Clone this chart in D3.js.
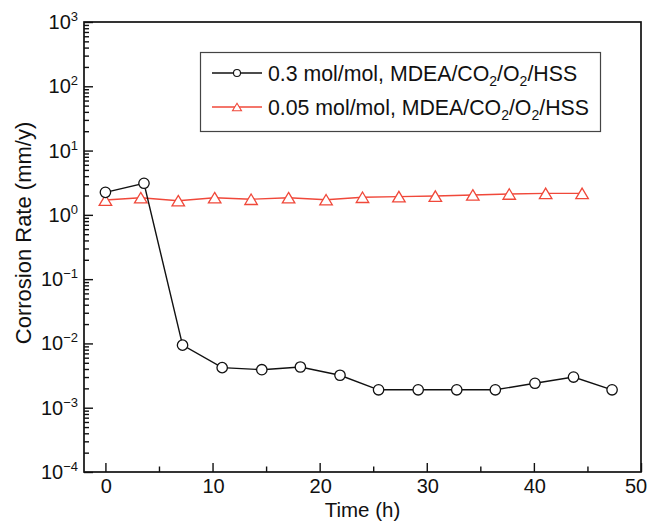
<!DOCTYPE html>
<html>
<head>
<meta charset="utf-8">
<script src="https://cdn.jsdelivr.net/npm/d3@7/dist/d3.min.js"></script>
<style>
  body { margin: 0; background: #fff; }
  svg text { font-family: "Liberation Sans", Arial, Helvetica, sans-serif; fill: #111; }
</style>
</head>
<body>
<div id="chart"></div>
<script>
// time (h) and corrosion rate (mm/y) for each series
var timeHigh = [0, 3.6, 7.2, 10.9, 14.6, 18.2, 21.9, 25.5, 29.2, 32.8, 36.4, 40.1, 43.7, 47.3];
var rateHigh = [2.24, 3.10, 0.0094, 0.0042, 0.0039, 0.0043, 0.0032, 0.0019, 0.0019, 0.0019, 0.0019, 0.0024, 0.0030, 0.0019];
var timeLow  = [0, 3.3, 6.8, 10.2, 13.6, 17.1, 20.6, 24.0, 27.4, 30.8, 34.3, 37.7, 41.1, 44.5];
var rateLow  = [1.70, 1.85, 1.66, 1.85, 1.75, 1.85, 1.72, 1.88, 1.92, 1.96, 2.04, 2.11, 2.16, 2.16];

var seriesNames = ['0.3 mol/mol, MDEA/CO|2|/O|2|/HSS', '0.05 mol/mol, MDEA/CO|2|/O|2|/HSS'];
var xTicks      = [0, 10, 20, 30, 40, 50];
var xMinor      = [5, 15, 25, 35, 45];
var yExponents  = [3, 2, 1, 0, -1, -2, -3, -4];

var w = 650;
var h = 523;
var mLeft = 84, mRight = 641, mTop = 22, mBottom = 472;
var red = '#f0483a';

var svg = d3.select('#chart').append('svg')
            .attr('width', w)
            .attr('height', h);

var x = d3.scaleLinear().domain([-2, 50]).range([mLeft, mRight]);
var y = d3.scaleLog().domain([1e-4, 1e3]).range([mBottom, mTop]);

// minor ticks of the log axis: 2..9 in every decade
var yMinor = [];
yExponents.forEach(function(e) {
  if (e == 3) return;
  for (var k = 2; k <= 9; k++) yMinor.push(k * Math.pow(10, e));
});

// axes, ticks pointing inward
svg.append('g')
   .attr('transform', 'translate(0,' + mBottom + ')')
   .call(d3.axisBottom(x).tickValues(xTicks).tickSize(-9).tickFormat(''));
svg.append('g')
   .attr('transform', 'translate(0,' + mBottom + ')')
   .call(d3.axisBottom(x).tickValues(xMinor).tickSize(-5.5).tickFormat(''));
svg.append('g')
   .attr('transform', 'translate(' + mLeft + ',0)')
   .call(d3.axisLeft(y).tickValues(yExponents.map(function(e) { return Math.pow(10, e) })).tickSize(-9).tickFormat(''));
svg.append('g')
   .attr('transform', 'translate(' + mLeft + ',0)')
   .call(d3.axisLeft(y).tickValues(yMinor).tickSize(-5).tickFormat(''));

svg.selectAll('.domain').remove();
svg.selectAll('.tick line').attr('stroke', '#111').attr('stroke-width', 1.4);

// frame
svg.append('rect')
   .attr('x', mLeft)
   .attr('y', mTop)
   .attr('width', mRight - mLeft)
   .attr('height', mBottom - mTop)
   .attr('fill', 'none')
   .attr('stroke', '#111')
   .attr('stroke-width', 1.7);

// tick labels (the last one is pulled in so it stays inside the picture)
svg.selectAll('.xlab')
   .data(xTicks)
   .enter()
   .append('text')
   .attr('class', 'xlab')
   .attr('x', function(d, i) { return x(d) + (i == xTicks.length - 1 ? -5 : 1) })
   .attr('y', mBottom + 21)
   .attr('text-anchor', 'middle')
   .style('font-size', '20px')
   .text(function(d) { return d });

var ylab = svg.selectAll('.ylab')
              .data(yExponents)
              .enter()
              .append('text')
              .attr('class', 'ylab')
              .attr('x', mLeft - 6)
              .attr('y', function(d) { return y(Math.pow(10, d)) + 7 })
              .attr('text-anchor', 'end')
              .style('font-size', '20px');
ylab.append('tspan').text('10');
ylab.append('tspan')
    .attr('dy', -8)
    .style('font-size', '13px')
    .text(function(d) { return String(d).replace('-', '\u2212') });

// axis titles
svg.append('text')
   .attr('x', (mLeft + mRight) / 2)
   .attr('y', 517)
   .attr('text-anchor', 'middle')
   .style('font-size', '20.5px')
   .text('Time (h)');

svg.append('text')
   .attr('transform', 'translate(31,' + 233 + ') rotate(-90)')
   .attr('text-anchor', 'middle')
   .style('font-size', '22px')
   .text('Corrosion Rate (mm/y)');

function trianglePath(cx, cy, tw, th) {
  return 'M' + cx + ',' + (cy - th / 2) +
         'L' + (cx + tw / 2) + ',' + (cy + th / 2) +
         'L' + (cx - tw / 2) + ',' + (cy + th / 2) + 'Z';
}

var lowData  = timeLow.map(function(t, i) { return {t: t, v: rateLow[i]} });
var highData = timeHigh.map(function(t, i) { return {t: t, v: rateHigh[i]} });

var line = d3.line()
             .x(function(d) { return x(d.t) })
             .y(function(d) { return y(d.v) });

// red series (drawn under the black one)
svg.append('path')
   .datum(lowData)
   .attr('d', line)
   .attr('fill', 'none')
   .attr('stroke', red)
   .attr('stroke-width', 1.4);

svg.selectAll('.tri')
   .data(lowData)
   .enter()
   .append('path')
   .attr('class', 'tri')
   .attr('d', function(d) { return trianglePath(x(d.t), y(d.v), 12.5, 10.5) })
   .attr('fill', '#fff')
   .attr('stroke', red)
   .attr('stroke-width', 1.3);

// black series
svg.append('path')
   .datum(highData)
   .attr('d', line)
   .attr('fill', 'none')
   .attr('stroke', '#111')
   .attr('stroke-width', 1.4);

svg.selectAll('.dot')
   .data(highData)
   .enter()
   .append('circle')
   .attr('class', 'dot')
   .attr('cx', function(d) { return x(d.t) })
   .attr('cy', function(d) { return y(d.v) })
   .attr('r', 5.2)
   .attr('fill', '#fff')
   .attr('stroke', '#111')
   .attr('stroke-width', 1.3);

// legend
var legend = svg.append('g');
legend.append('rect')
      .attr('x', 200.5)
      .attr('y', 52.5)
      .attr('width', 400)
      .attr('height', 79)
      .attr('fill', '#fff')
      .attr('stroke', '#444')
      .attr('stroke-width', 1.2);

var rows = [73, 107];
var colors = ['#111', red];

seriesNames.forEach(function(name, i) {
  var cy = rows[i];
  legend.append('line')
        .attr('x1', 212).attr('x2', 262)
        .attr('y1', cy).attr('y2', cy)
        .attr('stroke', colors[i])
        .attr('stroke-width', 1.4);
  if (i == 0) {
    legend.append('circle')
          .attr('cx', 237).attr('cy', cy).attr('r', 3.5)
          .attr('fill', '#fff').attr('stroke', '#111').attr('stroke-width', 1.1);
  } else {
    legend.append('path')
          .attr('d', trianglePath(237, cy, 9, 7.5))
          .attr('fill', '#fff').attr('stroke', red).attr('stroke-width', 1.1);
  }
  var t = legend.append('text')
                .attr('x', 268)
                .attr('y', cy + 7.5)
                .style('font-size', '21.3px');
  // parts between | are subscripts
  name.split('|').forEach(function(part, j) {
    if (j % 2 == 1) {
      t.append('tspan').attr('dy', 5).style('font-size', '14px').text(part);
    } else {
      t.append('tspan').attr('dy', j == 0 ? 0 : -5).text(part);
    }
  });
});
</script>
</body>
</html>
